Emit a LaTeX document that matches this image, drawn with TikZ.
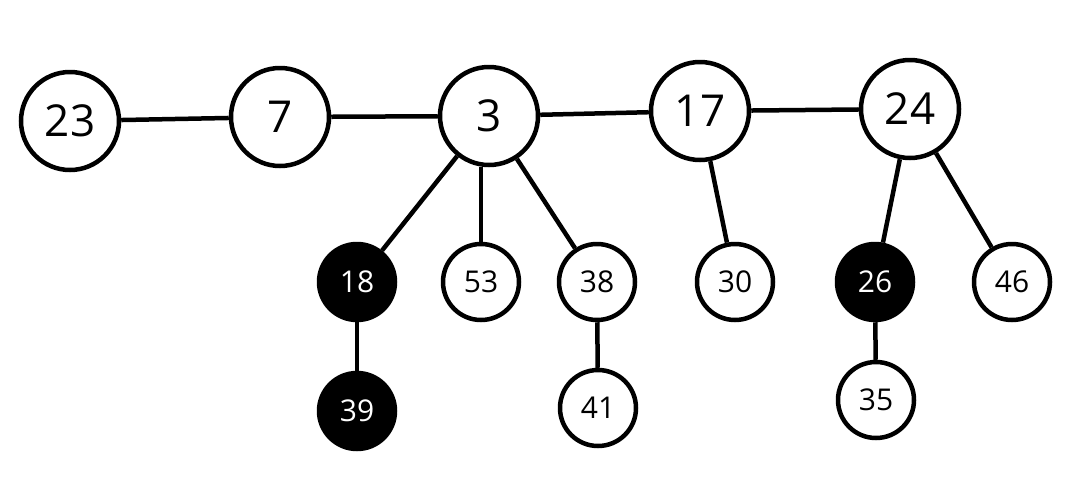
\documentclass[tikz,border=0pt]{standalone}
\usepackage{fontspec}
\setmainfont{Open Sans}
\begin{document}
\begin{tikzpicture}[x=1pt,y=-1pt,
  big/.style={circle,draw=black,line width=4.5pt,fill=white,minimum size=98pt,inner sep=0pt,font=\fontsize{44}{48}\selectfont},
  small/.style={circle,draw=black,line width=4.5pt,fill=white,minimum size=76pt,inner sep=0pt,font=\fontsize{30}{34}\selectfont},
  blk/.style={small,fill=black,text=white},
  edge/.style={line width=4.5pt}]
\useasboundingbox (0,0) rectangle (1074,480);
\node[big] (n23) at (70,121) {23};
\node[big] (n7) at (280,117) {7};
\node[big] (n3) at (489,116) {3};
\node[big] (n17) at (700,111) {17};
\node[big] (n24) at (910,109) {24};
\node[blk] (n18) at (357,282) {18};
\node[small] (n53) at (481,282) {53};
\node[small] (n38) at (597,282) {38};
\node[small] (n30) at (735,282) {30};
\node[blk] (n26) at (875,282) {26};
\node[small] (n46) at (1012,282) {46};
\node[blk] (n39) at (357,411) {39};
\node[small] (n41) at (598,408) {41};
\node[small] (n35) at (876,400) {35};
\draw[edge] (n23) -- (n7);
\draw[edge] (n7) -- (n3);
\draw[edge] (n3) -- (n17);
\draw[edge] (n17) -- (n24);
\draw[edge] (n3) -- (n18);
\draw[edge] (n3.south -| n53) -- (n53);
\draw[edge] (n3) -- (n38);
\draw[edge] (n17) -- (n30);
\draw[edge] (n24) -- (n26);
\draw[edge] (n24) -- (n46);
\draw[edge] (n18) -- (n39);
\draw[edge] (n38) -- (n41);
\draw[edge] (n26) -- (n35);
\end{tikzpicture}
\end{document}
